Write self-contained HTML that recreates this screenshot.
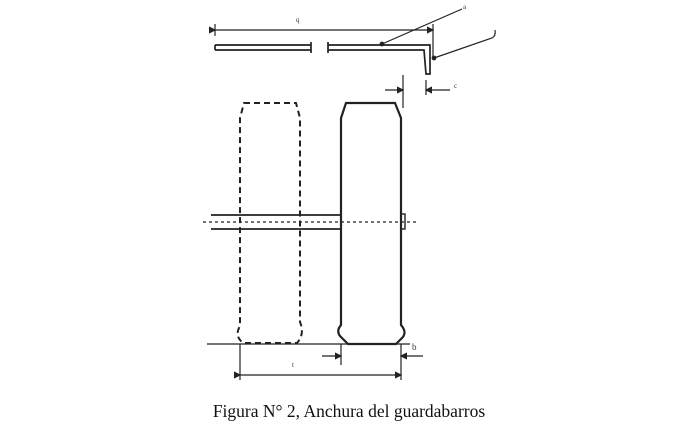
<!DOCTYPE html>
<html><head><style>
html,body{margin:0;padding:0;background:#fff;width:698px;height:432px;overflow:hidden}
.cap{position:absolute;left:0;width:698px;top:401px;text-align:center;font-family:"Liberation Serif",serif;font-size:17.5px;color:#111}
</style></head><body>
<svg width="698" height="432" style="position:absolute;left:0;top:0" xmlns="http://www.w3.org/2000/svg">
<defs>
<marker id="a" markerWidth="6" markerHeight="6" refX="5" refY="3" orient="auto"><path d="M0,0 L6,3 L0,6z" fill="#222"/></marker>
</defs>
<g stroke="#222" fill="none" stroke-width="1.2">
<line x1="215" y1="30" x2="433" y2="30" marker-start="url(#a)" marker-end="url(#a)"/>
<line x1="215" y1="24" x2="215" y2="36"/>
<line x1="433" y1="24" x2="433" y2="58"/>
<path d="M215,45 L311,45 M215,50 L311,50 M215,45 L215,50 M311,42 L311,53" stroke-width="1.7"/>
<path d="M328,42 L328,53 M328,45 L430,45 L430,74 L426,74 L424,50 L328,50" stroke-width="1.7"/>
<line x1="382" y1="44" x2="462" y2="9"/>
<circle cx="382" cy="44" r="1.8" fill="#222"/>
<path d="M434,58 L492,38 Q496,36 495,30"/>
<circle cx="434" cy="58" r="1.8" fill="#222"/>
<line x1="403" y1="75" x2="403" y2="108"/>
<line x1="385" y1="90" x2="403" y2="90" marker-end="url(#a)"/>
<line x1="426" y1="80" x2="426" y2="95"/>
<line x1="450" y1="90" x2="426" y2="90" marker-end="url(#a)"/>
<path d="M244,103 L296,103 L300,118 L300,322 Q305,334 297,343 L243,343 Q234,336 240,326 L240,118 Z" stroke-width="2" stroke-dasharray="6,4"/>
<path d="M346,103 L395,103 L401,118 L401,325 Q408,333 401,339 L396,344 L348,344 L342,338 Q335,332 341,325 L341,118 Z" stroke-width="2.2"/>
<line x1="211" y1="215" x2="341" y2="215" stroke-width="1.7"/>
<line x1="211" y1="229" x2="341" y2="229" stroke-width="1.7"/>
<line x1="203" y1="222" x2="417" y2="222" stroke-dasharray="3,3"/>
<rect x="401" y="214" width="4" height="15" stroke-width="1.4"/>
<line x1="207" y1="344" x2="410" y2="344"/>
<line x1="341" y1="344" x2="341" y2="365"/>
<line x1="401" y1="344" x2="401" y2="380"/>
<line x1="240" y1="344" x2="240" y2="380"/>
<line x1="322" y1="356" x2="341" y2="356" marker-end="url(#a)"/>
<line x1="423" y1="356" x2="401" y2="356" marker-end="url(#a)"/>
<line x1="240" y1="375" x2="401" y2="375" marker-start="url(#a)" marker-end="url(#a)"/>
</g>
<g font-family="Liberation Serif,serif" font-size="7" fill="#333">
<text x="296" y="22">q</text>
<text x="463" y="9">a</text>
<text x="454" y="88">c</text>
<text x="412" y="350" font-size="9">b</text>
<text x="292" y="367">t</text>
</g>
</svg>
<div class="cap">Figura N° 2, Anchura del guardabarros</div>
</body></html>
